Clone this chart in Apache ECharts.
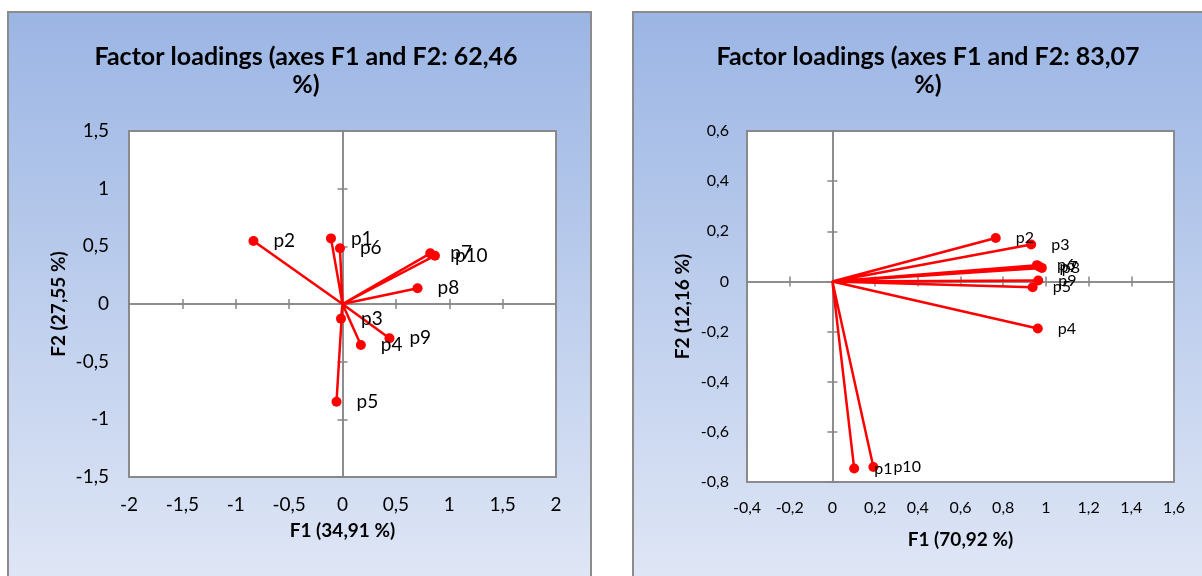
<!DOCTYPE html>
<html>
<head>
<meta charset="utf-8">
<script src="https://cdn.jsdelivr.net/npm/echarts@6/dist/echarts.min.js"></script>
<style>
html,body{margin:0;padding:0;background:#fff;}
#c{width:1202px;height:576px;}
</style>
</head>
<body>
<div id="c"></div>
<script>
// ---- data ----
const varNames = ['p1','p2','p3','p4','p5','p6','p7','p8','p9','p10'];

const leftTitle = 'Factor loadings (axes F1 and F2: 62,46\n%)';
const leftXName = 'F1 (34,91 %)';
const leftYName = 'F2 (27,55 %)';
const leftF1 = [-0.108, -0.834, -0.014, 0.172, -0.056, -0.024, 0.822, 0.703, 0.440, 0.866];
const leftF2 = [0.569, 0.546, -0.127, -0.356, -0.847, 0.483, 0.439, 0.136, -0.297, 0.419];
const leftXTicks = {min: -2, max: 2, interval: 0.5};
const leftYTicks = {min: -1.5, max: 1.5, interval: 0.5};

const rightTitle = 'Factor loadings (axes F1 and F2: 83,07\n%)';
const rightXName = 'F1 (70,92 %)';
const rightYName = 'F2 (12,16 %)';
const rightF1 = [0.102, 0.765, 0.931, 0.962, 0.938, 0.958, 0.970, 0.981, 0.964, 0.192];
const rightF2 = [-0.746, 0.173, 0.147, -0.188, -0.023, 0.065, 0.059, 0.054, 0.004, -0.740];
const rightXTicks = {min: -0.4, max: 1.6, interval: 0.2};
const rightYTicks = {min: -0.8, max: 0.6, interval: 0.2};

// ---- helpers ----
const FONT = 'Lato';
const AXIS_GREY = '#868686';
const fmt = v => String(+(+v).toFixed(2)).replace('.', ',');

function segData(f1, f2) {
  const d = [];
  for (let i = 0; i < f1.length; i++) {
    d.push({value: [0, 0], symbol: 'none', label: {show: false}});
    d.push({value: [f1[i], f2[i]], name: varNames[i]});
  }
  return d;
}

const chart = echarts.init(document.getElementById('c'), null, {renderer: 'canvas'});

const xAxes = [], yAxes = [], series = [];

function buildPanel(g, xt, yt, xName, yName, f1, f2, cfg) {
  const xBase = xAxes.length, yBase = yAxes.length;
  xAxes.push({
    gridIndex: g, type: 'value', min: xt.min, max: xt.max, interval: xt.interval,
    position: 'bottom',
    axisLine: {show: false, onZero: false}, axisTick: {show: false}, splitLine: {show: false},
    axisLabel: {formatter: fmt, color: '#000', fontFamily: FONT, fontSize: cfg.tickFont, margin: cfg.xMargin},
    name: xName, nameLocation: 'middle', nameGap: cfg.xNameGap,
    nameTextStyle: {fontFamily: FONT, fontWeight: 'bold', fontSize: cfg.nameFont, color: '#000'}
  });
  ['bottom', 'top'].forEach(pos => {
    xAxes.push({
      gridIndex: g, type: 'value', min: xt.min, max: xt.max, interval: xt.interval,
      position: pos,
      axisLine: {show: true, onZero: true, onZeroAxisIndex: yBase, lineStyle: {color: AXIS_GREY, width: 1.5}},
      axisTick: {show: true, length: 5, lineStyle: {color: AXIS_GREY, width: 1.5}},
      axisLabel: {show: false}, splitLine: {show: false}
    });
  });
  yAxes.push({
    gridIndex: g, type: 'value', min: yt.min, max: yt.max, interval: yt.interval,
    position: 'left',
    axisLine: {show: false, onZero: false}, axisTick: {show: false}, splitLine: {show: false},
    axisLabel: {formatter: fmt, color: '#000', fontFamily: FONT, fontSize: cfg.tickFont, margin: cfg.yMargin},
    name: yName, nameLocation: 'middle', nameGap: cfg.yNameGap, nameRotate: 90,
    nameTextStyle: {fontFamily: FONT, fontWeight: 'bold', fontSize: cfg.nameFont, color: '#000'}
  });
  ['left', 'right'].forEach(pos => {
    yAxes.push({
      gridIndex: g, type: 'value', min: yt.min, max: yt.max, interval: yt.interval,
      position: pos,
      axisLine: {show: true, onZero: true, onZeroAxisIndex: xBase, lineStyle: {color: AXIS_GREY, width: 1.5}},
      axisTick: {show: true, length: 5, lineStyle: {color: AXIS_GREY, width: 1.5}},
      axisLabel: {show: false}, splitLine: {show: false}
    });
  });
  series.push({
    type: 'line', xAxisIndex: xBase, yAxisIndex: yBase,
    data: segData(f1, f2),
    symbol: 'circle', symbolSize: 10, showAllSymbol: true,
    itemStyle: {color: '#ff0000'},
    lineStyle: {color: '#ff0000', width: 2.5},
    label: {show: true, position: 'right', distance: 15, formatter: '{b}',
            color: '#000', fontFamily: FONT, fontSize: cfg.pointFont},
    z: 5
  });
}

buildPanel(0, leftXTicks, leftYTicks, leftXName, leftYName, leftF1, leftF2,
  {tickFont: 19, nameFont: 19, pointFont: 19, xMargin: 18, yMargin: 20, xNameGap: 44, yNameGap: 61});
buildPanel(1, rightXTicks, rightYTicks, rightXName, rightYName, rightF1, rightF2,
  {tickFont: 16, nameFont: 19, pointFont: 16, xMargin: 18, yMargin: 18, xNameGap: 48, yNameGap: 55});

const panelGrad = () => new echarts.graphic.LinearGradient(0, 0, 0, 1, [
  {offset: 0, color: '#9bb5e4'}, {offset: 1, color: '#e0e7f6'}
]);

chart.setOption({
  animation: false,
  backgroundColor: '#ffffff',
  graphic: {elements: [
    {type: 'rect', z: -10, shape: {x: 8, y: 12, width: 583, height: 575}, style: {fill: panelGrad(), stroke: '#8c8c8c', lineWidth: 2}},
    {type: 'rect', z: -10, shape: {x: 633, y: 12, width: 585, height: 575}, style: {fill: panelGrad(), stroke: '#8c8c8c', lineWidth: 2}}
  ]},
  title: [
    {text: leftTitle, left: 301, top: 38, textAlign: 'center',
     textStyle: {fontFamily: FONT, fontWeight: 'bold', fontSize: 25, lineHeight: 28, color: '#000'}},
    {text: rightTitle, left: 923, top: 38, textAlign: 'center',
     textStyle: {fontFamily: FONT, fontWeight: 'bold', fontSize: 25, lineHeight: 28, color: '#000'}}
  ],
  grid: [
    {left: 129, top: 131, width: 427, height: 346, show: true, backgroundColor: '#ffffff', borderColor: '#8a8a8a', borderWidth: 2, containLabel: false},
    {left: 747, top: 131, width: 427, height: 351, show: true, backgroundColor: '#ffffff', borderColor: '#8a8a8a', borderWidth: 2, containLabel: false}
  ],
  xAxis: xAxes,
  yAxis: yAxes,
  series: series
});
</script>
</body>
</html>
